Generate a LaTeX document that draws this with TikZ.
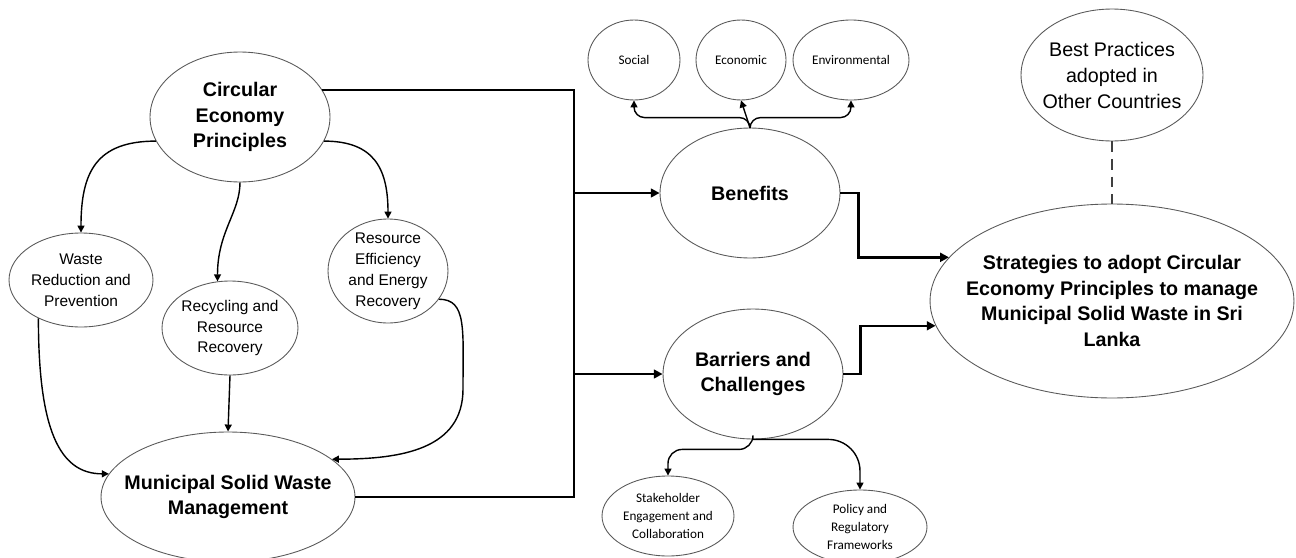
\documentclass[tikz,border=0pt]{standalone}
\usepackage{fontspec}
\setmainfont{Liberation Sans}
\newfontfamily\calfont{Carlito}
\usetikzlibrary{shapes.geometric,arrows.meta}

\begin{document}
\begin{tikzpicture}[x=0.02cm,y=-0.02cm]
	\tikzstyle{bubble} = [draw=black!65, line width=0.5pt, ellipse, inner sep=0pt]
	\tikzstyle{big} = [font=\fontsize{11.2}{14.5}\selectfont\bfseries, align=center]
	\tikzstyle{mid} = [font=\fontsize{11.2}{14.8}\selectfont, align=center]
	\tikzstyle{small} = [font=\fontsize{8.8}{11.9}\selectfont, align=center]
	\tikzstyle{tiny} = [font=\calfont\fontsize{7.5}{10}\selectfont, align=center]
	\tikzstyle{link} = [draw=black, line width=0.8pt, -{Triangle[length=4pt,width=4pt]}]
	\tikzstyle{bus} = [draw=black, line width=1.4pt]
	\tikzstyle{busarrow} = [bus, -{Triangle[length=5pt,width=5pt]}]
	\useasboundingbox (0,0) rectangle (1296,558);

		\node[bubble, minimum width=3.6cm, minimum height=2.6cm, label={[big]center:Circular\\Economy\\Principles}] (cep) at (240,117) {};
		\node[bubble, minimum width=2.88cm, minimum height=1.88cm, label={[small]center:Waste\\Reduction and\\Prevention}] (waste) at (81,280) {};
		\node[bubble, minimum width=2.72cm, minimum height=1.88cm, label={[small]center:Recycling and\\Resource\\Recovery}] (recyc) at (230,328) {};
		\node[bubble, minimum width=2.4cm, minimum height=2.08cm, label={[small]center:Resource\\Efficiency\\and Energy\\Recovery}] (reeff) at (388,271) {};
		\node[bubble, minimum width=5.08cm, minimum height=2.6cm, label={[big]center:Municipal Solid Waste\\Management}] (mswm) at (228,497) {};
		\node[bubble, minimum width=3.6cm, minimum height=2.6cm, label={[big]center:Benefits}] (benef) at (750,193) {};
		\node[bubble, minimum width=3.6cm, minimum height=2.6cm, label={[big]center:Barriers and\\Challenges}] (barr) at (753,374) {};
		\node[bubble, minimum width=1.84cm, minimum height=1.6cm, label={[tiny]center:Social}] (social) at (634,60) {};
		\node[bubble, minimum width=1.8cm, minimum height=1.6cm, label={[tiny]center:Economic}] (econ) at (741,60) {};
		\node[bubble, minimum width=2.32cm, minimum height=1.6cm, label={[tiny]center:Environmental}] (envir) at (851,60) {};
		\node[bubble, minimum width=2.64cm, minimum height=1.6cm, label={[tiny]center:Stakeholder\\Engagement and\\Collaboration}] (stake) at (668,516) {};
		\node[bubble, minimum width=2.68cm, minimum height=1.48cm, label={[tiny]center:Policy and\\Regulatory\\Frameworks}] (policy) at (860,527) {};
		\node[bubble, minimum width=3.64cm, minimum height=2.64cm, label={[mid]center:Best Practices\\adopted in\\Other Countries}] (best) at (1112,75) {};
		\node[bubble, minimum width=7.28cm, minimum height=3.88cm, label={[big]center:Strategies to adopt Circular\\Economy Principles to manage\\Municipal Solid Waste in Sri\\Lanka}] (strat) at (1112,301) {};

		\coordinate (jben) at (574,193);
		\coordinate (jbar) at (574,374);
		\coordinate (jbot) at (574,497);
		\coordinate (bend) at (463,389);

	% left side
	\draw[link] (cep.196) .. controls +(-60,0) and +(0,-60) .. (waste.north);
	\draw[link] (cep.south) .. controls +(0,30) and +(0,-50) .. (recyc.105);
	\draw[link] (cep.-16) .. controls +(50,0) and +(0,-50) .. (reeff.north);
	\draw[link] (waste.222) .. controls +(0,110) and +(-50,0) .. (mswm.169);
	\draw[link] (recyc.south) -- (mswm.north);
	\draw[link] (reeff.-29) .. controls +(28,0) and +(0,-60) .. (bend) .. controls +(0,60) and +(70,0) .. (mswm.20);

	% bus lines
	\draw[bus] (cep.18) -| (jbot) -- (mswm.east);
	\draw[busarrow] (jben) -- (benef.west);
	\draw[busarrow] (jbar) -- (barr.west);
	\draw[busarrow] (benef.east) -- ++(18,0) |- (strat.165);
	\draw[busarrow] (barr.east) -- ++(17,0) |- (strat.188);

	% branches
	\draw[link, rounded corners=6pt] (benef.north) -- ++(0,-10) -| (social.south);
	\draw[link] (benef.north) -- (econ.south);
	\draw[link, rounded corners=6pt] (benef.north) -- ++(0,-10) -| (envir.south);
	\draw[link, rounded corners=8pt] (barr.south) -- ++(0,10) -| (stake.north);
	\draw[link, rounded corners=18pt] (barr.south) -| (policy.north);
	\draw[black!75, line width=0.8pt, dash pattern=on 6pt off 4pt] (best.south) -- (strat.north);
\end{tikzpicture}
\end{document}
